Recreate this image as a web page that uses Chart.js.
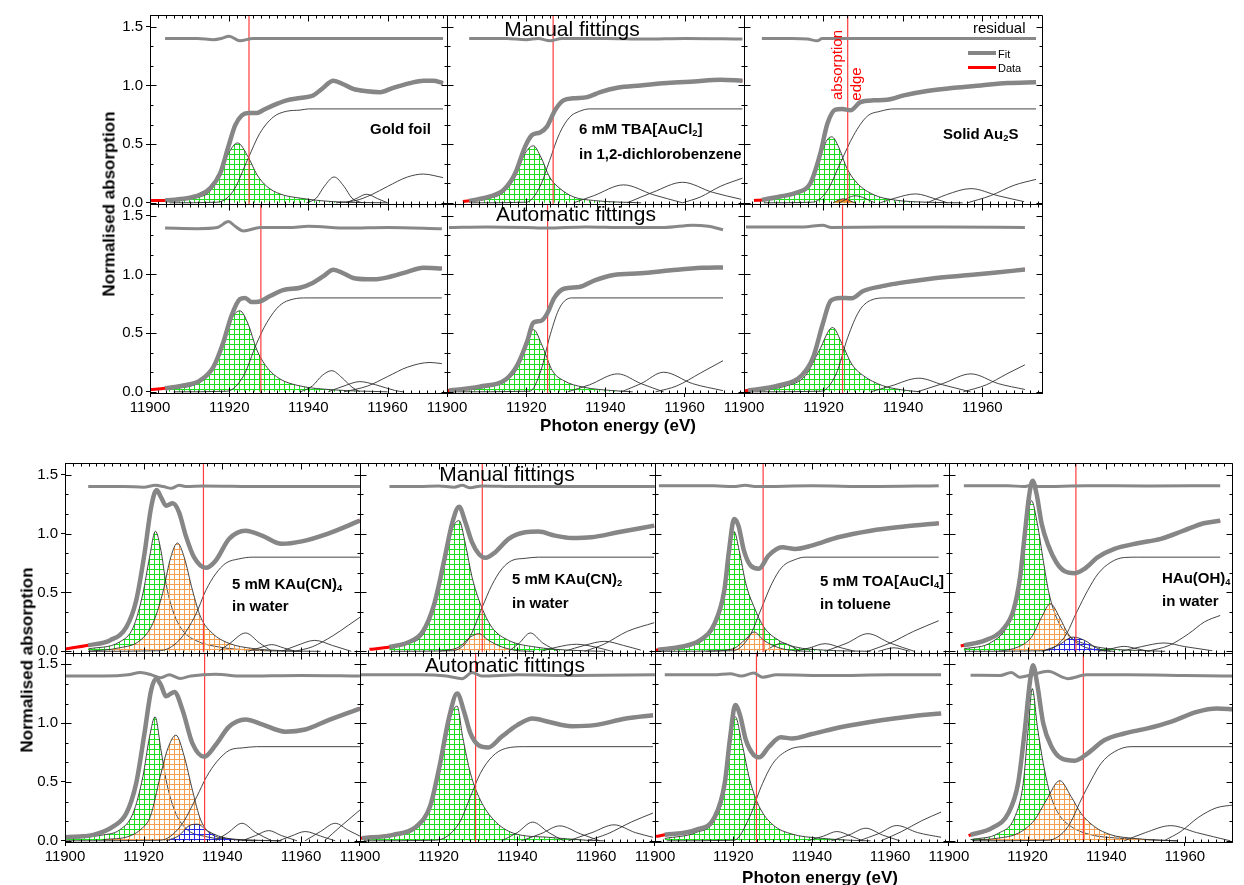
<!DOCTYPE html>
<html>
<head>
<meta charset="utf-8">
<script src="https://cdn.jsdelivr.net/npm/chart.js@4.4.1/dist/chart.umd.min.js"></script>
<style>
    body { margin: 0; background: #fff; width: 1244px; height: 885px; position: relative; overflow: hidden;
           font-family: 'Liberation Sans', Arial, sans-serif; color: #000; }
    canvas { position: absolute; left: 0; }
    .t { position: absolute; white-space: nowrap; line-height: 1; font-size: 15px; transform: translateY(-50%); }
    .c { transform: translate(-50%, -50%); font-size: 21px; }
    .b { font-weight: bold; }
    .rot { transform: translate(-50%, -50%) rotate(-90deg); }
    sub { font-size: 0.62em; vertical-align: -0.3em; line-height: 0; }
    .key { position: absolute; }
</style>
</head>
<body>
<canvas id="topChart" width="1244" height="445" style="top:0"></canvas>
<canvas id="bottomChart" width="1244" height="440" style="top:445px"></canvas>

<!-- top figure texts -->
<div class="t b rot" style="left:109px;top:204px;font-size:17px">Normalised absorption</div>
<div class="t b c" style="left:618px;top:425px;font-size:17px">Photon energy (eV)</div>
<div class="t c" style="left:572px;top:28px">Manual fittings</div>
<div class="t c" style="left:576px;top:213px">Automatic fittings</div>
<div class="t b" style="left:370px;top:128px">Gold foil</div>
<div class="t b" style="left:579px;top:128px">6 mM TBA[AuCl<sub>2</sub>]</div>
<div class="t b" style="left:579px;top:153px">in 1,2-dichlorobenzene</div>
<div class="t b" style="left:943px;top:133px">Solid Au<sub>2</sub>S</div>
<div class="t" style="left:973px;top:27px">residual</div>
<div class="key" style="left:968px;top:51px;width:28px;height:4px;background:#858585"></div>
<div class="t" style="left:998px;top:54px;font-size:11px">Fit</div>
<div class="key" style="left:968px;top:66px;width:28px;height:3px;background:#ff0000"></div>
<div class="t" style="left:998px;top:68px;font-size:11px">Data</div>
<div class="t rot" style="left:836px;top:65px;color:#ff0000">absorption</div>
<div class="t rot" style="left:855px;top:84px;color:#ff0000">edge</div>

<!-- bottom figure texts -->
<div class="t b rot" style="left:27px;top:660px;font-size:17px">Normalised absorption</div>
<div class="t b c" style="left:820px;top:877px;font-size:17px">Photon energy (eV)</div>
<div class="t c" style="left:507px;top:473px">Manual fittings</div>
<div class="t c" style="left:505px;top:664px">Automatic fittings</div>
<div class="t b" style="left:232px;top:583px">5 mM KAu(CN)<sub>4</sub></div>
<div class="t b" style="left:232px;top:605px">in water</div>
<div class="t b" style="left:512px;top:578px">5 mM KAu(CN)<sub>2</sub></div>
<div class="t b" style="left:512px;top:602px">in water</div>
<div class="t b" style="left:820px;top:580px">5 mM TOA[AuCl<sub>4</sub>]</div>
<div class="t b" style="left:820px;top:603px">in toluene</div>
<div class="t b" style="left:1162px;top:577px">HAu(OH)<sub>4</sub></div>
<div class="t b" style="left:1162px;top:600px">in water</div>

<script>
// Axis ranges and ticks
const X_MIN = 11900;
const topColMax = [11975, 11975, 11975];
const topColWidth = [297, 297, 298];
const botColMax = [11975, 11975, 11975, 11972];
const botColWidth = [297, 297, 296, 285];
const Y_MIN = -0.01;
const Y_MAX = 1.6;
const xTickStep = 20;
const yTickStep = 0.5;

// ---------- Gold foil, manual ----------
const foilManLead = [[11900, 0.02]];
const foilManFit = [[11903.8,0.02],[11908.4,0.034],[11912.6,0.068],[11915.2,0.124],[11917.7,0.25],[11919.8,0.48],[11921.5,0.66],[11923.2,0.745],[11924.8,0.765],[11927,0.765],[11928.6,0.79],[11931.1,0.83],[11934.5,0.873],[11937.9,0.893],[11941.2,0.915],[11943.4,0.97],[11946.3,1.04],[11948.8,1.01],[11951.3,0.97],[11954.7,0.95],[11958.1,0.943],[11961.4,0.98],[11965.7,1.02],[11969,1.04],[11971.5,1.04],[11974,1.02]];
const foilManResid = [[11903.8,1.40],[11912,1.40],[11916,1.39],[11918,1.40],[11920,1.42],[11922.7,1.38],[11926,1.40],[11940,1.40],[11955,1.40],[11974,1.40]];
const foilManStep = [[11905,0],[11916.9,0.005],[11921,0.10],[11924.8,0.38],[11927.7,0.59],[11931.1,0.73],[11934.5,0.78],[11937.9,0.79],[11940,0.80],[11974,0.80]];
const foilManGreen = [[11903.8,0.01],[11908.4,0.03],[11912.6,0.05],[11915.2,0.10],[11917.7,0.25],[11919.8,0.42],[11922.1,0.51],[11924.8,0.39],[11927,0.24],[11929.5,0.14],[11932.8,0.076],[11937.9,0.04],[11946.3,0.01],[11960,0]];
const foilManS1 = [[11939.5,0],[11942,0.04],[11944,0.14],[11946.5,0.22],[11949,0.14],[11951,0.04],[11953.5,0]];
const foilManS2 = [[11949.5,0],[11952,0.035],[11954.7,0.073],[11957.5,0.035],[11960,0]];
const foilManS3 = [[11947,0],[11952,0.02],[11956,0.07],[11960,0.14],[11965,0.22],[11969,0.245],[11974,0.215]];
const foilManEdge = 11925;

// ---------- Gold foil, automatic ----------
const foilAutoLead = [[11900, 0.02]];
const foilAutoFit = [[11903.8,0.03],[11908.4,0.054],[11912.6,0.096],[11916,0.21],[11918.5,0.42],[11920.6,0.65],[11922.7,0.79],[11924,0.80],[11925.6,0.765],[11927.7,0.77],[11930.3,0.816],[11933.6,0.867],[11937.9,0.887],[11941.2,0.93],[11943.8,0.985],[11946.3,1.04],[11948.8,1.01],[11951.3,0.97],[11954.7,0.96],[11957.2,0.96],[11960.6,0.98],[11964.8,1.02],[11969,1.057],[11973.7,1.05]];
const foilAutoResid = [[11903.8,1.395],[11912,1.39],[11917,1.40],[11919.8,1.45],[11921.5,1.41],[11923.6,1.37],[11927.8,1.40],[11935,1.40],[11940,1.41],[11950,1.395],[11960,1.40],[11973.7,1.39]];
const foilAutoStep = [[11906,0],[11919.4,0.005],[11923.6,0.135],[11926.9,0.41],[11929.5,0.59],[11932.8,0.737],[11936.2,0.79],[11939.6,0.80],[11973.7,0.80]];
const foilAutoGreen = [[11903.8,0.02],[11912.6,0.08],[11916,0.195],[11918.5,0.39],[11920.6,0.62],[11922.7,0.69],[11924.8,0.576],[11926.9,0.364],[11929.5,0.21],[11932.8,0.11],[11937.9,0.05],[11946.3,0.017],[11960,0]];
const foilAutoS1 = [[11938,0],[11941,0.05],[11943.5,0.14],[11945.9,0.18],[11948.5,0.12],[11951,0.04],[11953,0]];
const foilAutoS2 = [[11945,0],[11949,0.05],[11953,0.087],[11957,0.06],[11962,0.01],[11964,0]];
const foilAutoS3 = [[11949,0],[11955,0.05],[11960,0.13],[11965,0.21],[11970.7,0.25],[11973.7,0.24]];
const foilAutoEdge = 11928;

// ---------- TBA[AuCl2], manual ----------
const tbaManLead = [[11904,0.012]];
const tbaManFit = [[11905.6,0.017],[11910.9,0.054],[11914.3,0.11],[11917.2,0.25],[11919.7,0.477],[11921.4,0.576],[11923.5,0.60],[11925.2,0.647],[11927.3,0.79],[11929.4,0.873],[11932,0.89],[11935.4,0.90],[11938.7,0.943],[11943,0.98],[11948.9,1.0],[11955.6,1.02],[11962.4,1.034],[11969.1,1.048],[11974.6,1.04]];
const tbaManResid = [[11905.6,1.40],[11915,1.40],[11920,1.39],[11923,1.40],[11926,1.38],[11929,1.40],[11940,1.40],[11950,1.395],[11960,1.40],[11974.6,1.395]];
const tbaManStep = [[11906,0],[11920,0.005],[11923.5,0.14],[11925.9,0.36],[11928.4,0.59],[11931,0.73],[11933.5,0.78],[11936,0.80],[11974.6,0.80]];
const tbaManGreen = [[11905.6,0.01],[11910.9,0.04],[11914.3,0.09],[11917.2,0.22],[11919.7,0.42],[11921.8,0.486],[11923.7,0.39],[11925.9,0.22],[11928.4,0.125],[11932,0.05],[11937,0.02],[11949,0]];
const tbaManS1 = [[11932,0],[11937,0.06],[11944.6,0.153],[11952,0.07],[11959.5,0]];
const tbaManS2 = [[11945.5,0],[11952,0.09],[11959.5,0.175],[11967,0.09],[11974.3,0.03]];
const tbaManS3 = [[11959.5,0],[11964,0.05],[11969,0.14],[11974.6,0.21]];
const tbaManEdge = 11926.8;

// ---------- TBA[AuCl2], automatic ----------
const tbaAutoLead = [[11900,0.01]];
const tbaAutoFit = [[11900.5,0.011],[11908.2,0.044],[11915,0.11],[11917.9,0.237],[11920.3,0.435],[11921.8,0.59],[11923.7,0.605],[11925.2,0.66],[11927.1,0.80],[11929.5,0.878],[11933.4,0.893],[11937.3,0.949],[11942.1,0.995],[11948.9,1.01],[11956.6,1.035],[11964.4,1.056],[11969.7,1.06]];
const tbaAutoResid = [[11900.5,1.40],[11910,1.405],[11920,1.40],[11925,1.395],[11935,1.405],[11945,1.40],[11955,1.40],[11962,1.42],[11966,1.41],[11969.7,1.38]];
const tbaAutoStep = [[11901,0],[11920.9,0.005],[11923.7,0.18],[11926.1,0.49],[11928.5,0.72],[11931.5,0.80],[11969.7,0.80]];
const tbaAutoGreen = [[11900.5,0.01],[11910.2,0.04],[11915,0.095],[11917.9,0.21],[11920,0.435],[11921.8,0.53],[11924.2,0.38],[11926.6,0.18],[11929.5,0.095],[11934.4,0.04],[11942.1,0.01],[11946.9,0]];
const tbaAutoS1 = [[11930.5,0],[11936,0.06],[11943.1,0.153],[11949,0.07],[11954.7,0]];
const tbaAutoS2 = [[11944,0],[11949,0.07],[11954.7,0.167],[11962,0.07],[11969.7,0.01]];
const tbaAutoS3 = [[11952.7,0],[11958,0.05],[11964,0.16],[11969.7,0.265]];
const tbaAutoEdge = 11925.4;

// ---------- Solid Au2S, manual ----------
const ausManLead = [[11902.5,0.02]];
const ausManFit = [[11904.5,0.025],[11909.1,0.054],[11913.3,0.088],[11916.7,0.167],[11919.2,0.42],[11921,0.675],[11923,0.794],[11924.7,0.80],[11926.8,0.788],[11929.3,0.858],[11932.7,0.873],[11936,0.878],[11940.2,0.915],[11946.1,0.952],[11952.9,0.98],[11959.6,1.0],[11966.3,1.02],[11973.5,1.028]];
const ausManResid = [[11904.5,1.40],[11912,1.40],[11916,1.395],[11918.4,1.38],[11919.7,1.40],[11924,1.40],[11940,1.40],[11960,1.40],[11973.5,1.40]];
const ausManStep = [[11905,0],[11917.1,0.005],[11920.9,0.10],[11924.2,0.336],[11927.6,0.576],[11931,0.737],[11934.3,0.78],[11937.7,0.80],[11973.5,0.80]];
const ausManGreen = [[11904.5,0.02],[11909.1,0.045],[11913.3,0.076],[11916.7,0.155],[11919.2,0.392],[11920.9,0.535],[11922.1,0.562],[11923.8,0.477],[11925.9,0.294],[11928.5,0.167],[11932.7,0.068],[11937.7,0.025],[11946.1,0.005],[11955,0]];
const ausManOrange = [[11922.4,0],[11925,0.034],[11927.9,0]];
const ausManS0 = [[11924,0],[11928,0.06],[11933,0]];
const ausManS1 = [[11934.3,0],[11938,0.04],[11943.2,0.076],[11948,0.035],[11951.2,0]];
const ausManS2 = [[11946.1,0],[11951,0.07],[11957.1,0.121],[11964,0.06],[11970.5,0.01]];
const ausManS3 = [[11956.2,0],[11962,0.06],[11968,0.15],[11973.5,0.20]];
const ausManEdge = 11926.1;

// ---------- Solid Au2S, automatic ----------
const ausAutoLead = [[11900,0.01]];
const ausAutoFit = [[11901,0.011],[11908.7,0.054],[11914.5,0.139],[11917.4,0.294],[11919.8,0.576],[11921.8,0.774],[11924.2,0.80],[11927.1,0.797],[11930,0.859],[11934.8,0.90],[11939.7,0.93],[11947.4,0.966],[11955.2,0.99],[11962.9,1.014],[11970.7,1.042]];
const ausAutoResid = [[11900.5,1.404],[11915,1.404],[11919.8,1.42],[11922,1.40],[11935,1.404],[11950,1.404],[11970.7,1.40]];
const ausAutoStep = [[11901,0],[11919.4,0.005],[11923.2,0.153],[11926.1,0.463],[11929,0.689],[11931.9,0.78],[11935.8,0.80],[11970.7,0.80]];
const ausAutoGreen = [[11901,0.01],[11910.6,0.05],[11915.5,0.139],[11918.9,0.35],[11922.3,0.548],[11924.7,0.407],[11927.1,0.237],[11930,0.139],[11934.8,0.054],[11939.7,0.017],[11944.5,0]];
const ausAutoS1 = [[11931.9,0],[11937,0.05],[11944,0.116],[11950,0.06],[11957,0]];
const ausAutoS2 = [[11943.6,0],[11950,0.07],[11957.1,0.153],[11964,0.07],[11970.7,0.02]];
const ausAutoS3 = [[11955.2,0],[11961,0.06],[11966,0.15],[11970.7,0.23]];
const ausAutoEdge = 11924.8;

// ---------- 5 mM KAu(CN)4, manual ----------
const cn4ManLead = [[11900,0.02]];
const cn4ManFit = [[11905.9,0.051],[11911.4,0.093],[11915.6,0.206],[11918.1,0.432],[11920.2,0.828],[11921.9,1.223],[11923.3,1.37],[11924.4,1.31],[11925.7,1.237],[11927.4,1.257],[11929,1.18],[11930.7,0.983],[11932.8,0.80],[11935.8,0.709],[11938.3,0.77],[11941.7,0.955],[11945.9,1.025],[11950.1,0.983],[11955.1,0.913],[11960.2,0.934],[11966.9,1.0],[11975,1.11]];
const cn4ManResid = [[11905.9,1.40],[11915,1.40],[11920,1.395],[11923,1.41],[11925,1.40],[11927,1.385],[11929,1.41],[11931,1.40],[11935,1.405],[11950,1.40],[11975,1.40]];
const cn4ManStep = [[11906,0],[11924,0.005],[11929,0.093],[11933.2,0.31],[11935.8,0.517],[11938.3,0.658],[11940.9,0.749],[11944.2,0.785],[11947.6,0.80],[11975,0.80]];
const cn4ManGreen = [[11905.9,0.02],[11913.9,0.08],[11917.3,0.20],[11919.8,0.49],[11921.5,0.80],[11923,1.02],[11924.4,0.855],[11925.7,0.574],[11927.4,0.347],[11929.9,0.178],[11933.2,0.093],[11939.1,0.037],[11947.5,0.01],[11960,0]];
const cn4ManOrange = [[11905.9,0],[11913.9,0.03],[11919,0.09],[11922.3,0.235],[11924.8,0.49],[11926.9,0.80],[11928.6,0.92],[11930.3,0.80],[11932.4,0.52],[11934.5,0.29],[11937.5,0.153],[11941.7,0.068],[11947.5,0.025],[11956,0.005],[11965,0]];
const cn4ManS1 = [[11939.1,0],[11942,0.07],[11945.9,0.156],[11949.5,0.07],[11952.6,0]];
const cn4ManS2 = [[11946.5,0],[11949.5,0.03],[11952.6,0.057],[11955.5,0.03],[11958.5,0]];
const cn4ManS3 = [[11955.1,0],[11959,0.05],[11963.5,0.093],[11968,0.05],[11972.8,0]];
const cn4ManS4 = [[11958.5,0],[11963,0.04],[11968,0.13],[11972,0.22],[11975,0.29]];
const cn4ManEdge = 11935.2;

// ---------- 5 mM KAu(CN)4, automatic ----------
const cn4AutoLead = [[11899.5,0.03]];
const cn4AutoFit = [[11900,0.031],[11907.2,0.051],[11912.2,0.121],[11915.6,0.234],[11918.1,0.49],[11920.2,0.912],[11921.9,1.28],[11923.2,1.378],[11924.4,1.322],[11925.7,1.228],[11927.8,1.265],[11929.9,1.11],[11932.4,0.828],[11935.4,0.714],[11938.3,0.814],[11941.7,0.969],[11945.9,1.031],[11950.1,0.99],[11956,0.927],[11961.1,0.946],[11967,1.025],[11975,1.124]];
const cn4AutoResid = [[11900,1.40],[11910,1.40],[11916,1.41],[11919.2,1.43],[11922,1.41],[11924.2,1.385],[11926.5,1.41],[11929.3,1.38],[11932,1.40],[11938.3,1.415],[11945,1.40],[11960,1.405],[11975,1.40]];
const cn4AutoStep = [[11900,0],[11924.2,0.005],[11929.3,0.121],[11933.5,0.375],[11936,0.545],[11938.6,0.672],[11941.9,0.771],[11945.3,0.79],[11948.7,0.80],[11975,0.80]];
const cn4AutoGreen = [[11900,0.02],[11909.7,0.05],[11913.9,0.093],[11917.3,0.234],[11919.8,0.545],[11921.5,0.884],[11922.9,1.054],[11924.4,0.772],[11925.7,0.517],[11927.8,0.263],[11930.7,0.106],[11935.8,0.036],[11943.4,0.01],[11955,0]];
const cn4AutoOrange = [[11909.7,0.01],[11916.4,0.04],[11920,0.12],[11921.7,0.206],[11924.2,0.545],[11926.1,0.78],[11928.2,0.898],[11930.3,0.72],[11932.4,0.43],[11934.5,0.178],[11937.5,0.05],[11943.4,0.013],[11955,0]];
const cn4AutoBlue = [[11925.7,0],[11929,0.045],[11931.6,0.13],[11933.7,0.141],[11936.2,0.085],[11939.1,0.04],[11943.4,0.01],[11948,0]];
const cn4AutoS1 = [[11938.3,0],[11941.5,0.07],[11945,0.149],[11948.5,0.07],[11952.6,0]];
const cn4AutoS2 = [[11945,0],[11948.5,0.045],[11951.8,0.087],[11955,0.045],[11959,0]];
const cn4AutoS3 = [[11954.3,0],[11957.5,0.04],[11961.1,0.079],[11965,0.04],[11968.7,0]];
const cn4AutoS4 = [[11961,0],[11965,0.08],[11968.7,0.149],[11972,0.09],[11975,0.04]];
const cn4AutoS5 = [[11966,0],[11970,0.12],[11975,0.262]];
const cn4AutoEdge = 11935.5;

// ---------- 5 mM KAu(CN)2, manual ----------
const cn2ManLead = [[11902.4,0.017]];
const cn2ManFit = [[11907.5,0.037],[11912.5,0.08],[11915.9,0.164],[11918.9,0.404],[11921.4,0.771],[11923.5,1.096],[11925.2,1.229],[11926.8,1.096],[11928.5,0.926],[11930.2,0.828],[11931.9,0.794],[11934.4,0.842],[11937.8,0.955],[11942,1.011],[11945.4,1.017],[11949.6,0.983],[11953.8,0.963],[11958.8,0.969],[11965.6,1.011],[11974.8,1.068]];
const cn2ManResid = [[11907.5,1.40],[11915,1.40],[11920,1.405],[11924,1.395],[11926,1.41],[11928,1.39],[11931,1.405],[11940,1.40],[11955,1.40],[11975,1.40]];
const cn2ManStep = [[11908,0],[11923.5,0.005],[11927.7,0.108],[11931.1,0.376],[11933.5,0.56],[11936.1,0.701],[11938.6,0.771],[11942,0.79],[11945.4,0.80],[11974.8,0.80]];
const cn2ManGreen = [[11907.5,0.02],[11912.5,0.07],[11915.9,0.136],[11918.9,0.376],[11921.4,0.715],[11923.5,1.04],[11925.2,1.11],[11926.8,0.912],[11928.5,0.63],[11930.6,0.404],[11933.5,0.206],[11937.8,0.093],[11944.5,0.037],[11953,0.01],[11962,0]];
const cn2ManOrange = [[11920.2,0],[11925.2,0.037],[11928.1,0.122],[11930.2,0.15],[11932.7,0.093],[11936.1,0.037],[11940.3,0.005],[11944,0]];
const cn2ManS1 = [[11937.8,0],[11940.5,0.07],[11943.3,0.156],[11946.5,0.07],[11950.4,0]];
const cn2ManS2 = [[11952,0],[11957,0.05],[11962.2,0.085],[11967,0.05],[11971.4,0.01]];
const cn2ManS3 = [[11946,0],[11950,0.035],[11955,0.06],[11960,0.035],[11964,0]];
const cn2ManS4 = [[11957.1,0],[11962,0.06],[11968,0.17],[11974.8,0.243]];
const cn2ManEdge = 11931.1;

// ---------- 5 mM KAu(CN)2, automatic ----------
const cn2AutoLead = [[11900,0.02]];
const cn2AutoFit = [[11900.5,0.023],[11908.4,0.051],[11914.3,0.121],[11917.8,0.291],[11920.2,0.63],[11922.7,1.054],[11924.7,1.251],[11926.6,1.082],[11928.1,0.912],[11930.1,0.813],[11932.6,0.793],[11936,0.884],[11940,0.983],[11943.9,1.039],[11947.9,1.011],[11953.8,0.974],[11959.7,0.983],[11967.6,1.039],[11974.5,1.067]];
const cn2AutoResid = [[11900,1.41],[11915,1.41],[11922,1.40],[11926,1.378],[11928.5,1.43],[11931,1.40],[11940,1.41],[11955,1.405],[11975,1.41]];
const cn2AutoStep = [[11901,0],[11919.2,0.005],[11925.2,0.149],[11928.1,0.376],[11930.6,0.573],[11933.6,0.715],[11937,0.785],[11941.9,0.80],[11974.5,0.80]];
const cn2AutoGreen = [[11900.5,0.02],[11911.4,0.06],[11916.3,0.18],[11919.2,0.433],[11921.7,0.828],[11923.2,1.068],[11924.7,1.144],[11926.1,0.884],[11928.1,0.573],[11930.6,0.347],[11934,0.178],[11939,0.065],[11947.9,0.03],[11957.7,0.005],[11962,0]];
const cn2AutoS1 = [[11936,0],[11940,0.07],[11943.9,0.159],[11948,0.07],[11951.8,0]];
const cn2AutoS2 = [[11941,0],[11946,0.06],[11950.8,0.127],[11956,0.06],[11961,0]];
const cn2AutoS3 = [[11953,0],[11959,0.07],[11964.6,0.136],[11970,0.07],[11974.5,0.03]];
const cn2AutoS4 = [[11957.7,0],[11963,0.06],[11969,0.16],[11974.5,0.236]];
const cn2AutoEdge = 11929.4;

// ---------- 5 mM TOA[AuCl4], manual ----------
const toaManLead = [[11900,0.008]];
const toaManFit = [[11900.8,0.014],[11906.3,0.037],[11911.4,0.093],[11915.2,0.234],[11917.7,0.517],[11918.9,0.856],[11920.2,1.124],[11921.3,1.068],[11922.7,0.856],[11924.4,0.729],[11926.5,0.701],[11929,0.814],[11932.4,0.884],[11935.8,0.87],[11940,0.898],[11946.7,0.969],[11955.1,1.025],[11963.6,1.06],[11972.4,1.088]];
const toaManResid = [[11901,1.407],[11915,1.407],[11920,1.40],[11923,1.41],[11926,1.40],[11940,1.407],[11955,1.40],[11972.4,1.407]];
const toaManStep = [[11901,0],[11919.8,0.005],[11924,0.121],[11927.3,0.376],[11929.8,0.574],[11932.4,0.715],[11935.8,0.78],[11938.3,0.80],[11972.4,0.80]];
const toaManGreen = [[11900.8,0.01],[11908.8,0.042],[11913.1,0.121],[11916,0.291],[11918.1,0.63],[11919.4,0.94],[11920.2,1.017],[11921.5,0.856],[11923.2,0.574],[11925.3,0.376],[11927.8,0.206],[11931.6,0.093],[11935.8,0.037],[11943.4,0.01],[11955,0]];
const toaManGreen2 = [[11928,0],[11930,0.04],[11932.5,0.07],[11935,0.04],[11937,0]];
const toaManOrange = [[11913.1,0],[11919.8,0.02],[11923.2,0.105],[11925.3,0.164],[11927.8,0.093],[11931.6,0.03],[11935.8,0.005],[11940,0]];
const toaManS1 = [[11935.8,0],[11939.5,0.03],[11943.4,0.065],[11947.5,0.03],[11951,0]];
const toaManS2 = [[11943.4,0],[11949,0.07],[11954.3,0.15],[11960,0.07],[11966.2,0]];
const toaManS3 = [[11954.3,0],[11960,0.07],[11966,0.17],[11972.4,0.26]];
const toaManS4 = [[11957,0],[11961,0.03],[11965,0]];
const toaManEdge = 11927.6;

// ---------- 5 mM TOA[AuCl4], automatic ----------
const toaAutoLead = [[11900.3,0.037]];
const toaAutoFit = [[11902.5,0.051],[11910.4,0.093],[11915.3,0.206],[11917.8,0.489],[11919.2,0.884],[11920.5,1.153],[11921.7,1.068],[11923.2,0.856],[11925.2,0.729],[11926.6,0.709],[11929.1,0.80],[11932.1,0.879],[11935,0.87],[11940,0.907],[11947.9,0.969],[11957.7,1.025],[11965.6,1.059],[11973,1.082]];
const toaAutoResid = [[11902.5,1.41],[11915,1.41],[11919.2,1.42],[11922,1.40],[11925.2,1.425],[11927.5,1.39],[11931,1.41],[11945,1.405],[11960,1.41],[11973,1.41]];
const toaAutoStep = [[11903,0],[11920.2,0.005],[11924.2,0.206],[11927.1,0.46],[11930.1,0.658],[11934,0.771],[11938,0.80],[11973,0.80]];
const toaAutoGreen = [[11902.5,0.02],[11910.4,0.07],[11915.3,0.178],[11917.8,0.433],[11919.2,0.828],[11920.5,1.054],[11922.2,0.828],[11924.2,0.517],[11926.6,0.291],[11930.1,0.136],[11935,0.057],[11941.9,0.023],[11949.8,0.005],[11955,0]];
const toaAutoS1 = [[11939,0],[11943,0.04],[11946.4,0.079],[11950,0.04],[11953,0]];
const toaAutoS2 = [[11945,0],[11949.5,0.05],[11953.8,0.107],[11958,0.05],[11962.5,0]];
const toaAutoS3 = [[11952,0],[11957,0.06],[11961.7,0.13],[11967,0.07],[11973,0.03]];
const toaAutoS4 = [[11957.7,0],[11963,0.08],[11968,0.17],[11973,0.244]];
const toaAutoEdge = 11925.9;

// ---------- HAu(OH)4, manual ----------
const ohManLead = [[11903,0.045]];
const ohManFit = [[11903.8,0.051],[11909.2,0.093],[11913.5,0.178],[11916.4,0.347],[11918.1,0.63],[11919.3,0.997],[11920.4,1.322],[11921.3,1.449],[11922.3,1.336],[11923.6,1.082],[11925.3,0.898],[11927.3,0.757],[11929.4,0.681],[11932,0.664],[11934.5,0.701],[11937.9,0.80],[11942.1,0.87],[11948,0.918],[11953.9,0.955],[11959.7,1.025],[11964.8,1.088],[11969,1.11]];
const ohManResid = [[11903.8,1.407],[11915,1.407],[11919,1.40],[11921,1.41],[11923,1.40],[11935,1.407],[11950,1.405],[11969,1.407]];
const ohManStep = [[11904,0],[11924.1,0.005],[11929.4,0.121],[11932.7,0.347],[11935.3,0.517],[11937.9,0.658],[11941.2,0.757],[11944.6,0.797],[11948,0.80],[11969,0.80]];
const ohManGreen = [[11903.8,0.02],[11910.9,0.079],[11915.1,0.234],[11917.6,0.517],[11919.3,0.94],[11921,1.28],[11922.5,1.082],[11924,0.771],[11925.3,0.517],[11927.3,0.291],[11930.3,0.136],[11934.5,0.065],[11940.4,0.023],[11950.5,0.005],[11955,0]];
const ohManOrange = [[11912.7,0],[11917.6,0.037],[11921,0.121],[11923.6,0.291],[11925.8,0.404],[11928.1,0.291],[11930.3,0.15],[11933.6,0.051],[11937.9,0.01],[11942,0]];
const ohManBlue = [[11923.6,0],[11927.8,0.051],[11931.6,0.121],[11934.5,0.093],[11937.9,0.023],[11941.2,0]];
const ohManS1 = [[11938,0],[11941,0.02],[11944.6,0.042],[11948,0.02],[11951,0]];
const ohManS2 = [[11943.8,0],[11949,0.04],[11954.7,0.071],[11960,0.04],[11967,0.005]];
const ohManS3 = [[11950.5,0],[11956,0.05],[11961,0.15],[11965,0.25],[11969,0.305]];
const ohManEdge = 11932.3;

// ---------- HAu(OH)4, automatic ----------
const ohAutoLead = [[11905,0.045]];
const ohAutoFit = [[11905.5,0.051],[11910.9,0.108],[11915.1,0.234],[11917.6,0.489],[11919.3,0.94],[11920.6,1.35],[11921.4,1.492],[11922.5,1.322],[11924,0.997],[11926.1,0.80],[11928.6,0.701],[11932,0.681],[11935.3,0.743],[11939.6,0.856],[11944.6,0.912],[11950.5,0.955],[11956.4,1.011],[11963.1,1.096],[11968.2,1.124],[11972.5,1.116]];
const ohAutoResid = [[11905.5,1.407],[11913,1.405],[11915.9,1.43],[11918,1.39],[11921,1.41],[11925.2,1.44],[11930.3,1.378],[11935,1.41],[11945,1.41],[11960,1.405],[11972.5,1.40]];
const ohAutoStep = [[11906,0],[11925.2,0.005],[11930.3,0.121],[11933.6,0.347],[11936.2,0.517],[11938.7,0.658],[11942.1,0.757],[11946.3,0.80],[11972.5,0.80]];
const ohAutoGreen = [[11905.5,0.01],[11912.6,0.064],[11916.8,0.206],[11918.9,0.489],[11920.2,0.969],[11921.2,1.294],[11922.5,0.969],[11924,0.658],[11925.7,0.404],[11927.8,0.234],[11931.1,0.121],[11936.2,0.051],[11942.9,0.023],[11953.8,0.005],[11958,0]];
const ohAutoOrange = [[11905.9,0.005],[11912.6,0.023],[11917.6,0.064],[11921.8,0.178],[11924.8,0.347],[11928.2,0.511],[11931.1,0.375],[11933.6,0.234],[11937,0.121],[11941.2,0.051],[11946.3,0.023],[11953.8,0.005],[11958,0]];
const ohAutoS1 = [[11944.6,0],[11950,0.07],[11956.4,0.129],[11963,0.07],[11971.6,0]];
const ohAutoS2 = [[11954.7,0],[11959,0.08],[11963.5,0.2],[11968,0.28],[11972.5,0.305]];
const ohAutoEdge = 11934.2;


// Hatched fills
function hatch(color) {
    const c = document.createElement('canvas');
    c.width = 5;
    c.height = 5;
    const g = c.getContext('2d');
    g.strokeStyle = color;
    g.lineWidth = 1;
    g.beginPath();
    g.moveTo(0, 4.5); g.lineTo(5, 4.5);
    g.moveTo(4.5, 0); g.lineTo(4.5, 5);
    g.stroke();
    return g.createPattern(c, 'repeat');
}
const greenHatch = hatch('#1ee01e');
const orangeHatch = hatch('#f5a050');
const blueHatch = hatch('#2828e0');

function line(data, xID, yID, color, width, extra) {
    return Object.assign({
        data: data,
        xAxisID: xID,
        yAxisID: yID,
        borderColor: color,
        borderWidth: width,
        pointRadius: 0,
        fill: false,
        cubicInterpolationMode: 'monotone'
    }, extra || {});
}

// One panel: fit on top, then data, residual, edge marker, components
function panelSets(xID, yID, p) {
    const sets = [];
    sets.push(line(p.fit, xID, yID, '#868686', 4.5));
    sets.push(line(p.lead.concat(p.fit), xID, yID, '#ff0000', 3));
    sets.push(line(p.resid, xID, yID, '#888888', 3));
    sets.push(line([[p.edge, Y_MIN], [p.edge, Y_MAX]], xID, yID, '#ff3b3b', 1.2,
        { cubicInterpolationMode: 'default', tension: 0 }));
    p.small.forEach(s => sets.push(line(s, xID, yID, '#303030', 0.9)));
    sets.push(line(p.step, xID, yID, '#303030', 0.9));
    p.fills.forEach(f => sets.push(line(f[0], xID, yID, '#303030', 0.9,
        { fill: 'origin', backgroundColor: f[1] })));
    return sets;
}

const topSets = [].concat(
    panelSets('xa', 'ya', { fit: foilManFit, lead: foilManLead, resid: foilManResid, step: foilManStep, edge: foilManEdge,
        small: [foilManS1, foilManS2, foilManS3], fills: [[foilManGreen, greenHatch]] }),
    panelSets('xa', 'yb', { fit: foilAutoFit, lead: foilAutoLead, resid: foilAutoResid, step: foilAutoStep, edge: foilAutoEdge,
        small: [foilAutoS1, foilAutoS2, foilAutoS3], fills: [[foilAutoGreen, greenHatch]] }),
    panelSets('xb', 'ya', { fit: tbaManFit, lead: tbaManLead, resid: tbaManResid, step: tbaManStep, edge: tbaManEdge,
        small: [tbaManS1, tbaManS2, tbaManS3], fills: [[tbaManGreen, greenHatch]] }),
    panelSets('xb', 'yb', { fit: tbaAutoFit, lead: tbaAutoLead, resid: tbaAutoResid, step: tbaAutoStep, edge: tbaAutoEdge,
        small: [tbaAutoS1, tbaAutoS2, tbaAutoS3], fills: [[tbaAutoGreen, greenHatch]] }),
    panelSets('xc', 'ya', { fit: ausManFit, lead: ausManLead, resid: ausManResid, step: ausManStep, edge: ausManEdge,
        small: [ausManS0, ausManS1, ausManS2, ausManS3], fills: [[ausManOrange, '#f08c20'], [ausManGreen, greenHatch]] }),
    panelSets('xc', 'yb', { fit: ausAutoFit, lead: ausAutoLead, resid: ausAutoResid, step: ausAutoStep, edge: ausAutoEdge,
        small: [ausAutoS1, ausAutoS2, ausAutoS3], fills: [[ausAutoGreen, greenHatch]] })
);

const bottomSets = [].concat(
    panelSets('xd', 'yc', { fit: cn4ManFit, lead: cn4ManLead, resid: cn4ManResid, step: cn4ManStep, edge: cn4ManEdge,
        small: [cn4ManS1, cn4ManS2, cn4ManS3, cn4ManS4], fills: [[cn4ManOrange, orangeHatch], [cn4ManGreen, greenHatch]] }),
    panelSets('xd', 'yd', { fit: cn4AutoFit, lead: cn4AutoLead, resid: cn4AutoResid, step: cn4AutoStep, edge: cn4AutoEdge,
        small: [cn4AutoS1, cn4AutoS2, cn4AutoS3, cn4AutoS4, cn4AutoS5],
        fills: [[cn4AutoBlue, blueHatch], [cn4AutoOrange, orangeHatch], [cn4AutoGreen, greenHatch]] }),
    panelSets('xe', 'yc', { fit: cn2ManFit, lead: cn2ManLead, resid: cn2ManResid, step: cn2ManStep, edge: cn2ManEdge,
        small: [cn2ManS1, cn2ManS2, cn2ManS3, cn2ManS4], fills: [[cn2ManOrange, orangeHatch], [cn2ManGreen, greenHatch]] }),
    panelSets('xe', 'yd', { fit: cn2AutoFit, lead: cn2AutoLead, resid: cn2AutoResid, step: cn2AutoStep, edge: cn2AutoEdge,
        small: [cn2AutoS1, cn2AutoS2, cn2AutoS3, cn2AutoS4], fills: [[cn2AutoGreen, greenHatch]] }),
    panelSets('xf', 'yc', { fit: toaManFit, lead: toaManLead, resid: toaManResid, step: toaManStep, edge: toaManEdge,
        small: [toaManS1, toaManS2, toaManS3, toaManS4],
        fills: [[toaManOrange, orangeHatch], [toaManGreen2, greenHatch], [toaManGreen, greenHatch]] }),
    panelSets('xf', 'yd', { fit: toaAutoFit, lead: toaAutoLead, resid: toaAutoResid, step: toaAutoStep, edge: toaAutoEdge,
        small: [toaAutoS1, toaAutoS2, toaAutoS3, toaAutoS4], fills: [[toaAutoGreen, greenHatch]] }),
    panelSets('xg', 'yc', { fit: ohManFit, lead: ohManLead, resid: ohManResid, step: ohManStep, edge: ohManEdge,
        small: [ohManS1, ohManS2, ohManS3],
        fills: [[ohManBlue, blueHatch], [ohManOrange, orangeHatch], [ohManGreen, greenHatch]] }),
    panelSets('xg', 'yd', { fit: ohAutoFit, lead: ohAutoLead, resid: ohAutoResid, step: ohAutoStep, edge: ohAutoEdge,
        small: [ohAutoS1, ohAutoS2], fills: [[ohAutoOrange, orangeHatch], [ohAutoGreen, greenHatch]] })
);


// Axes
function xScale(max, width) {
    return {
        type: 'linear', position: 'bottom', stack: 'cols', stackWeight: width,
        min: X_MIN, max: max,
        ticks: { stepSize: xTickStep, includeBounds: false, autoSkip: false, maxRotation: 0, padding: 2,
                 color: '#000', font: { size: 15 }, callback: v => String(v) },
        grid: { drawOnChartArea: false, tickLength: 4, color: '#000' },
        border: { color: '#000' },
        afterFit: s => { s.height = 30; }
    };
}
function yScale(order) {
    return {
        type: 'linear', position: 'left', stack: 'rows', stackWeight: 1, weight: order,
        min: Y_MIN, max: Y_MAX,
        ticks: { stepSize: yTickStep, includeBounds: false, padding: 3, color: '#000', font: { size: 15 },
                 callback: v => (Math.round(v * 10) / 10).toFixed(1) },
        grid: { drawOnChartArea: false, tickLength: 4, color: '#000' },
        border: { color: '#000' },
        afterFit: s => { s.width = 40; }
    };
}

// Panel frames with inward minor ticks on all sides
const frameTicks = {
    id: 'frameTicks',
    afterDatasetsDraw(chart) {
        const ctx = chart.ctx;
        const all = Object.values(chart.scales);
        const xs = all.filter(s => s.axis === 'x');
        const ys = all.filter(s => s.axis === 'y');
        ctx.save();
        ctx.strokeStyle = '#000';
        ctx.lineWidth = 1;
        ctx.beginPath();
        xs.forEach(xsc => ys.forEach(ysc => {
            const l = Math.round(xsc.left) + 0.5, r = Math.round(xsc.right) + 0.5;
            const t = Math.round(ysc.top) + 0.5, b = Math.round(ysc.bottom) + 0.5;
            ctx.rect(l, t, r - l, b - t);
            for (let e = xsc.min; e <= xsc.max; e += 2) {
                const px = Math.round(xsc.getPixelForValue(e)) + 0.5;
                const len = (e - X_MIN) % xTickStep === 0 ? 6 : 3;
                ctx.moveTo(px, t); ctx.lineTo(px, t + len);
                ctx.moveTo(px, b); ctx.lineTo(px, b - len);
            }
            for (let k = 0; k <= 9; k++) {
                const py = Math.round(ysc.getPixelForValue(k * yTickStep / 3)) + 0.5;
                const len = k % 3 === 0 ? 6 : 3;
                ctx.moveTo(l, py); ctx.lineTo(l + len, py);
                ctx.moveTo(r, py); ctx.lineTo(r - len, py);
            }
        }));
        ctx.stroke();
        ctx.restore();
    }
};

Chart.defaults.font.family = "'Liberation Sans', Arial, sans-serif";
Chart.defaults.color = '#000';

function makeChart(id, datasets, scales, padding) {
    return new Chart(document.getElementById(id), {
        type: 'line',
        data: { datasets: datasets },
        options: {
            responsive: false,
            animation: false,
            events: [],
            layout: { padding: padding },
            plugins: { legend: { display: false }, tooltip: { enabled: false } },
            scales: scales
        },
        plugins: [frameTicks]
    });
}

makeChart('topChart', topSets, {
    xa: xScale(topColMax[0], topColWidth[0]),
    xb: xScale(topColMax[1], topColWidth[1]),
    xc: xScale(topColMax[2], topColWidth[2]),
    ya: yScale(1),
    yb: yScale(0)
}, { left: 110, right: 202, top: 15, bottom: 22 });

makeChart('bottomChart', bottomSets, {
    xd: xScale(botColMax[0], botColWidth[0]),
    xe: xScale(botColMax[1], botColWidth[1]),
    xf: xScale(botColMax[2], botColWidth[2]),
    xg: xScale(botColMax[3], botColWidth[3]),
    yc: yScale(1),
    yd: yScale(0)
}, { left: 25, right: 4, top: 18, bottom: 13 });
</script>
</body>
</html>
